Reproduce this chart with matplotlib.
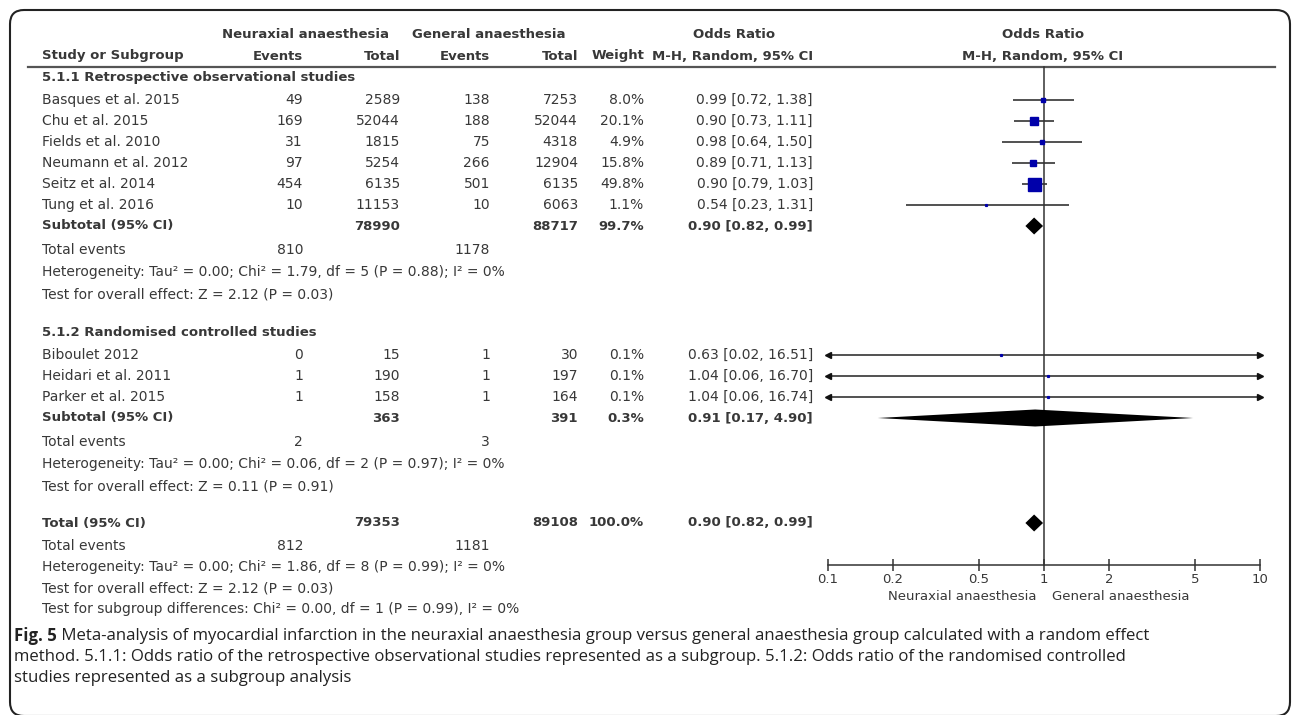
import numpy as np
import matplotlib
matplotlib.use('Agg')
import matplotlib.pyplot as plt
from matplotlib.patches import FancyBboxPatch

###data###
sub1_studies = ['Basques et al. 2015', 'Chu et al. 2015', 'Fields et al. 2010',
                'Neumann et al. 2012', 'Seitz et al. 2014', 'Tung et al. 2016']
sub1_ne_events = [49, 169, 31, 97, 454, 10]
sub1_ne_total = [2589, 52044, 1815, 5254, 6135, 11153]
sub1_ga_events = [138, 188, 75, 266, 501, 10]
sub1_ga_total = [7253, 52044, 4318, 12904, 6135, 6063]
sub1_weight = [8.0, 20.1, 4.9, 15.8, 49.8, 1.1]
sub1_or = [0.99, 0.90, 0.98, 0.89, 0.90, 0.54]
sub1_lo = [0.72, 0.73, 0.64, 0.71, 0.79, 0.23]
sub1_hi = [1.38, 1.11, 1.50, 1.13, 1.03, 1.31]

sub2_studies = ['Biboulet 2012', 'Heidari et al. 2011', 'Parker et al. 2015']
sub2_ne_events = [0, 1, 1]
sub2_ne_total = [15, 190, 158]
sub2_ga_events = [1, 1, 1]
sub2_ga_total = [30, 197, 164]
sub2_weight = [0.1, 0.1, 0.1]
sub2_or = [0.63, 1.04, 1.04]
sub2_lo = [0.02, 0.06, 0.06]
sub2_hi = [16.51, 16.70, 16.74]

subtotal_or = [0.90, 0.91]
subtotal_lo = [0.82, 0.17]
subtotal_hi = [0.99, 4.90]
subtotal_weight = ['99.7%', '0.3%']
subtotal_ne_total = [78990, 363]
subtotal_ga_total = [88717, 391]
subtotal_ne_events = [810, 2]
subtotal_ga_events = [1178, 3]
heterogeneity = ['Heterogeneity: Tau\u00b2 = 0.00; Chi\u00b2 = 1.79, df = 5 (P = 0.88); I\u00b2 = 0%',
                 'Heterogeneity: Tau\u00b2 = 0.00; Chi\u00b2 = 0.06, df = 2 (P = 0.97); I\u00b2 = 0%']
overall = ['Test for overall effect: Z = 2.12 (P = 0.03)',
           'Test for overall effect: Z = 0.11 (P = 0.91)']

total_or, total_lo, total_hi = 0.90, 0.82, 0.99
total_ne_total, total_ga_total = 79353, 89108
total_ne_events, total_ga_events = 812, 1181
total_het = 'Heterogeneity: Tau\u00b2 = 0.00; Chi\u00b2 = 1.86, df = 8 (P = 0.99); I\u00b2 = 0%'
total_test = 'Test for overall effect: Z = 2.12 (P = 0.03)'
subgroup_test = 'Test for subgroup differences: Chi\u00b2 = 0.00, df = 1 (P = 0.99), I\u00b2 = 0%'

ticks = [0.1, 0.2, 0.5, 1, 2, 5, 10]
tick_labels = ['0.1', '0.2', '0.5', '1', '2', '5', '10']

caption_bold = 'Fig. 5'
caption = [' Meta-analysis of myocardial infarction in the neuraxial anaesthesia group versus general anaesthesia group calculated with a random effect',
           'method. 5.1.1: Odds ratio of the retrospective observational studies represented as a subgroup. 5.1.2: Odds ratio of the randomised controlled',
           'studies represented as a subgroup analysis']

###figure in pixel units###
W, H = 1292, 715
fig = plt.figure(figsize=(W / 100, H / 100), dpi=100)
ax = fig.add_axes([0, 0, 1, 1])
ax.set_xlim(0, W)
ax.set_ylim(H, 0)
ax.axis('off')

###forest panel: log scale from 0.1 to 10 between x=828 and x=1260###
fx = fig.add_axes([828 / W, 0, 432 / W, 1])
fx.set_xscale('log')
fx.set_xlim(0.1, 10)
fx.set_ylim(H, 0)
fx.patch.set_alpha(0)
for s in ['top', 'left', 'right']:
    fx.spines[s].set_visible(False)
fx.set_yticks([])

TXT = '#383838'
fnt = dict(family='DejaVu Sans', fontsize=10, color=TXT, va='center')
bfnt = dict(fnt, fontsize=9.5, fontweight='bold')

# column right edges
c_name = 42
c_ne_ev, c_ne_tot, c_ga_ev, c_ga_tot, c_w, c_or = 303, 400, 490, 578, 644, 813

###header###
ax.text(306, 35, 'Neuraxial anaesthesia', ha='center', **bfnt)
ax.text(489, 35, 'General anaesthesia', ha='center', **bfnt)
ax.text(734, 35, 'Odds Ratio', ha='center', **bfnt)
ax.text(1043, 35, 'Odds Ratio', ha='center', **bfnt)
ax.text(c_name, 56, 'Study or Subgroup', ha='left', **bfnt)
for x, s in [(c_ne_ev, 'Events'), (c_ne_tot, 'Total'), (c_ga_ev, 'Events'),
             (c_ga_tot, 'Total'), (c_w, 'Weight'), (c_or, 'M-H, Random, 95% CI')]:
    ax.text(x, 56, s, ha='right', **bfnt)
ax.text(1043, 56, 'M-H, Random, 95% CI', ha='center', **bfnt)
ax.plot([28, 1275], [66.5, 66.5], color='#555555', lw=1.6)

def study_rows(y0, names, ne_ev, ne_tot, ga_ev, ga_tot, wts, ors, los, his):
    for k in range(len(names)):
        y = y0 + 21 * k
        ax.text(c_name, y, names[k], ha='left', **fnt)
        ax.text(c_ne_ev, y, str(ne_ev[k]), ha='right', **fnt)
        ax.text(c_ne_tot, y, str(ne_tot[k]), ha='right', **fnt)
        ax.text(c_ga_ev, y, str(ga_ev[k]), ha='right', **fnt)
        ax.text(c_ga_tot, y, str(ga_tot[k]), ha='right', **fnt)
        ax.text(c_w, y, '%.1f%%' % wts[k], ha='right', **fnt)
        ax.text(c_or, y, '%.2f [%.2f, %.2f]' % (ors[k], los[k], his[k]), ha='right', **fnt)
        lo = max(los[k], 0.1)
        hi = min(his[k], 10)
        fx.plot([lo, hi], [y, y], color='#333333', lw=1.2, solid_capstyle='butt', zorder=3)
        if los[k] < 0.1:
            fx.plot([0.1], [y], marker='<', ms=5, color='#111111', clip_on=False, zorder=4)
        if his[k] > 10:
            fx.plot([10], [y], marker='>', ms=5, color='#111111', clip_on=False, zorder=4)
        # square side grows with weight
        ms = max(13 * (wts[k] / 49.8) ** 0.6, 1.8) * 0.72
        fx.plot([ors[k]], [y], marker='s', ms=ms, color='#0000aa', mec='#0000aa', zorder=5)

def diamond(y, o, lo, hi, h=8.5):
    fx.fill([lo, o, hi, o], [y, y - h, y, y + h], color='black', lw=0, zorder=5)

def summary_block(y_sub, label, ne_tot, ga_tot, wt, o, lo, hi, ne_ev, ga_ev, het, test):
    ax.text(c_name, y_sub, label, ha='left', **bfnt)
    ax.text(c_ne_tot, y_sub, str(ne_tot), ha='right', **bfnt)
    ax.text(c_ga_tot, y_sub, str(ga_tot), ha='right', **bfnt)
    ax.text(c_w, y_sub, wt, ha='right', **bfnt)
    ax.text(c_or, y_sub, '%.2f [%.2f, %.2f]' % (o, lo, hi), ha='right', **bfnt)
    diamond(y_sub, o, lo, hi)
    y = y_sub + 24
    ax.text(c_name, y, 'Total events', ha='left', **fnt)
    ax.text(c_ne_ev, y, str(ne_ev), ha='right', **fnt)
    ax.text(c_ga_ev, y, str(ga_ev), ha='right', **fnt)
    ax.text(c_name, y + 22, het, ha='left', **fnt)
    ax.text(c_name, y + 44, test, ha='left', **fnt)

###subgroup 5.1.1###
ax.text(c_name, 78, '5.1.1 Retrospective observational studies', ha='left', **bfnt)
study_rows(100, sub1_studies, sub1_ne_events, sub1_ne_total, sub1_ga_events,
           sub1_ga_total, sub1_weight, sub1_or, sub1_lo, sub1_hi)
summary_block(226, 'Subtotal (95% CI)', subtotal_ne_total[0], subtotal_ga_total[0], subtotal_weight[0],
              subtotal_or[0], subtotal_lo[0], subtotal_hi[0], subtotal_ne_events[0],
              subtotal_ga_events[0], heterogeneity[0], overall[0])

###subgroup 5.1.2###
ax.text(c_name, 333, '5.1.2 Randomised controlled studies', ha='left', **bfnt)
study_rows(355, sub2_studies, sub2_ne_events, sub2_ne_total, sub2_ga_events,
           sub2_ga_total, sub2_weight, sub2_or, sub2_lo, sub2_hi)
summary_block(418, 'Subtotal (95% CI)', subtotal_ne_total[1], subtotal_ga_total[1], subtotal_weight[1],
              subtotal_or[1], subtotal_lo[1], subtotal_hi[1], subtotal_ne_events[1],
              subtotal_ga_events[1], heterogeneity[1], overall[1])

###overall###
ax.text(c_name, 523, 'Total (95% CI)', ha='left', **bfnt)
ax.text(c_ne_tot, 523, str(total_ne_total), ha='right', **bfnt)
ax.text(c_ga_tot, 523, str(total_ga_total), ha='right', **bfnt)
ax.text(c_w, 523, '100.0%', ha='right', **bfnt)
ax.text(c_or, 523, '%.2f [%.2f, %.2f]' % (total_or, total_lo, total_hi), ha='right', **bfnt)
diamond(523, total_or, total_lo, total_hi)
ax.text(c_name, 546, 'Total events', ha='left', **fnt)
ax.text(c_ne_ev, 546, str(total_ne_events), ha='right', **fnt)
ax.text(c_ga_ev, 546, str(total_ga_events), ha='right', **fnt)
ax.text(c_name, 567, total_het, ha='left', **fnt)
ax.text(c_name, 588, total_test, ha='left', **fnt)
ax.text(c_name, 609, subgroup_test, ha='left', **fnt)

###null line and axis###
fx.plot([1, 1], [67, 565], color='#333333', lw=1.1, zorder=2)
fx.spines['bottom'].set_position(('data', 565))
fx.spines['bottom'].set_color('#333333')
fx.spines['bottom'].set_linewidth(1.1)
fx.set_xticks(ticks)
fx.set_xticklabels(tick_labels)
fx.xaxis.set_minor_locator(matplotlib.ticker.NullLocator())
fx.tick_params(axis='x', direction='inout', length=8, width=1.1, color='#333333',
               labelsize=9.5, labelcolor=TXT, pad=2)
ax.text(1037, 597, 'Neuraxial anaesthesia', ha='right', **dict(fnt, fontsize=9.5))
ax.text(1052, 597, 'General anaesthesia', ha='left', **dict(fnt, fontsize=9.5))

###caption and frame###
cap = dict(family='Open Sans', fontsize=12.1, color='#222222', va='center')
t = ax.text(14, 636, caption_bold, ha='left', fontweight='bold', **cap)
fig.canvas.draw()
bb = t.get_window_extent()
x_end = ax.transData.inverted().transform((bb.x1, bb.y0))[0]
ax.text(x_end, 636, caption[0], ha='left', **cap)
ax.text(14, 657, caption[1], ha='left', **cap)
ax.text(14, 678, caption[2], ha='left', **cap)

frame = FancyBboxPatch((10, 10), 1280, 706, boxstyle='round,pad=0,rounding_size=14',
                       fill=False, ec='#222222', lw=1.5, clip_on=False)
ax.add_patch(frame)

fig.savefig('out.png', dpi=100)
